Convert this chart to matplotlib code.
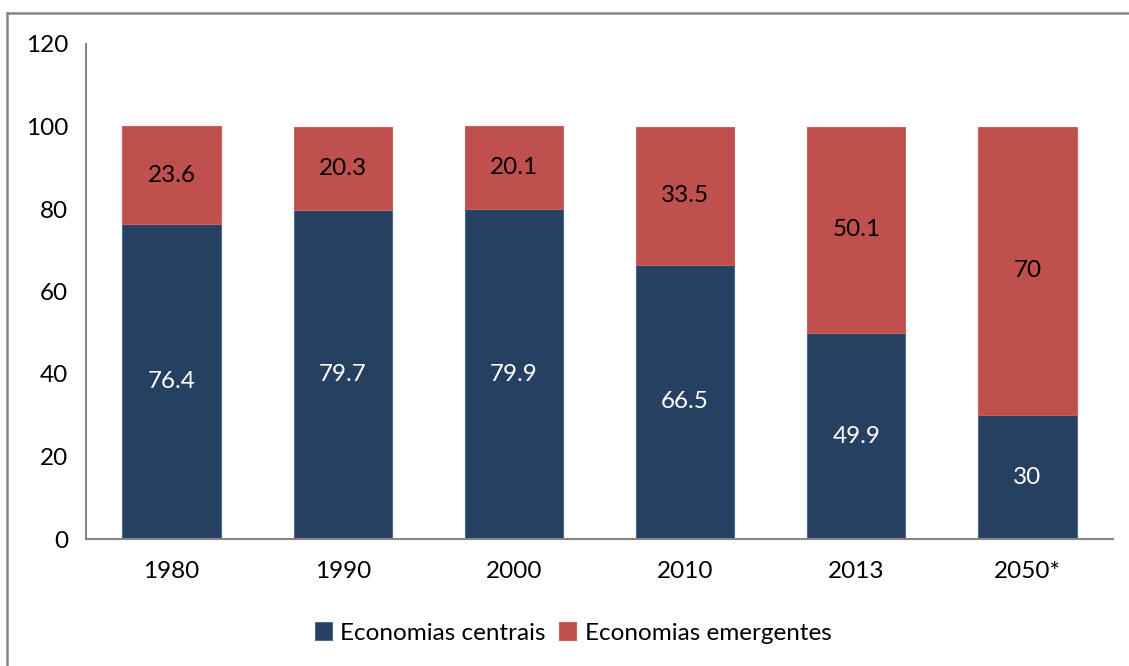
import matplotlib
matplotlib.use("Agg")
import matplotlib.pyplot as plt
from matplotlib.lines import Line2D
import numpy as np

plt.rcParams['font.family'] = ['Lato', 'DejaVu Sans']

anos = ["1980", "1990", "2000", "2010", "2013", "2050*"]
centrais = [76.4, 79.7, 79.9, 66.5, 49.9, 30]
emergentes = [23.6, 20.3, 20.1, 33.5, 50.1, 70]
rotulos_centrais = ["76.4", "79.7", "79.9", "66.5", "49.9", "30"]
rotulos_emergentes = ["23.6", "20.3", "20.1", "33.5", "50.1", "70"]

cor_centrais = "#264061"
cor_emergentes = "#C0504D"
cor_eixo = "#868686"
tam = 17.5

W, H = 1129, 666
fig = plt.figure(figsize=(W / 100, H / 100), dpi=100)
ax = fig.add_axes([86 / W, 1 - 539 / H, (1113 - 86) / W, (539 - 44) / H])

x = np.arange(len(anos))
largura = 0.575
b1 = ax.bar(x, centrais, largura, color=cor_centrais, edgecolor="#4A6A96",
            linewidth=0.8, label="Economias centrais", zorder=2)
b2 = ax.bar(x, emergentes, largura, bottom=centrais, color=cor_emergentes,
            edgecolor="#C9625F", linewidth=0.8, label="Economias emergentes", zorder=2)

ax.bar_label(b1, labels=rotulos_centrais, label_type="center", color="white", fontsize=tam)
ax.bar_label(b2, labels=rotulos_emergentes, label_type="center", color="black", fontsize=tam)

ax.set_xlim(-0.5, len(anos) - 0.5)
ax.set_ylim(0, 120)
ax.set_yticks(range(0, 121, 20))
ax.set_xticks(x)
ax.set_xticklabels(anos)
ax.tick_params(axis="both", length=0, labelsize=tam)
ax.tick_params(axis="y", pad=13)
ax.tick_params(axis="x", pad=16)

for s in ["top", "right"]:
    ax.spines[s].set_visible(False)
for s in ["left", "bottom"]:
    ax.spines[s].set_color(cor_eixo)
    ax.spines[s].set_linewidth(1.5)

leg = fig.legend(handles=[b1, b2], loc="center", bbox_to_anchor=(573 / W, 1 - 633 / H),
                 ncol=2, frameon=False, fontsize=tam, handlelength=0.7,
                 handleheight=0.7, handletextpad=0.35, columnspacing=0.55)

# moldura externa
fig.add_artist(Line2D([7 / W, 1], [1 - 13 / H, 1 - 13 / H], transform=fig.transFigure,
                      color=cor_eixo, linewidth=1.8))
fig.add_artist(Line2D([7 / W, 7 / W], [0, 1 - 13 / H], transform=fig.transFigure,
                      color=cor_eixo, linewidth=1.8))

fig.savefig("out.png", dpi=100)
